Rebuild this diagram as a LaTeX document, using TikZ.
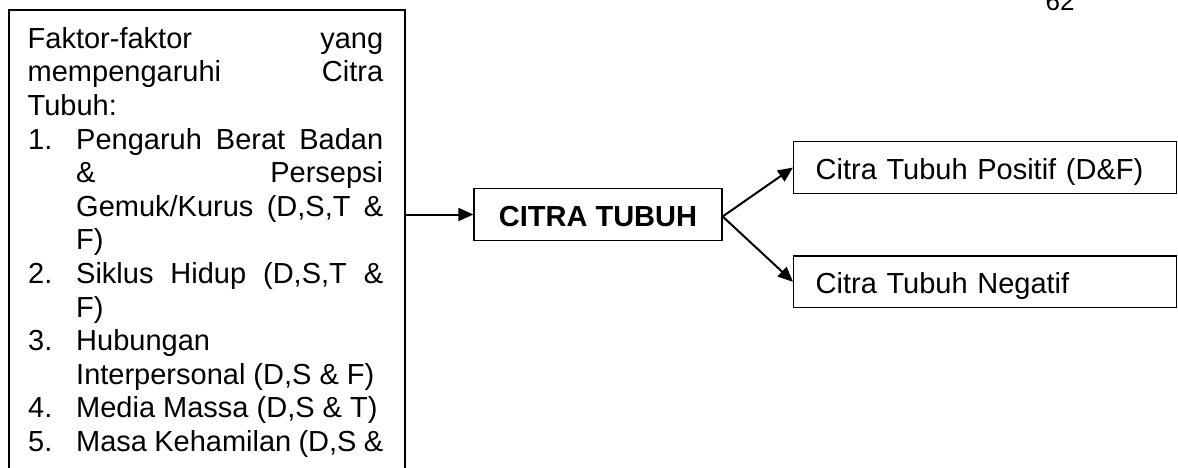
\documentclass[tikz,border=0pt]{standalone}
\usepackage{fontspec}
\setmainfont{Liberation Sans}
\usetikzlibrary{arrows.meta}
\begin{document}
\begin{tikzpicture}[x=1pt,y=-1pt,
  box/.style={draw, line width=1.3pt, rectangle, inner sep=0pt},
  txt/.style={anchor=base west, inner sep=0pt, font=\fontsize{29}{33.6}\selectfont},
  outbox/.style={box, text height=37.8pt, text depth=13.8pt, inner ysep=0pt, inner xsep=22pt,
     text width=339pt, align=left, anchor=west, font=\fontsize{29}{33.6}\selectfont},
  arr/.style={-{Triangle[length=15pt,width=13pt]}, line width=2pt}]
\useasboundingbox (0,0) rectangle (1178,468);
\fill[white] (0,0) rectangle (1178,468);

% page number
\node[anchor=base, inner sep=0pt, font=\fontsize{26}{30}\selectfont] (pagenum) at (1060,10.5) {62};

% left box of factors
\node[box, minimum width=396pt, minimum height=470pt] (factors) at (207,245) {};
\node[txt] (l1) at (27.5,48.3) {\hbox to 355.5pt{Faktor-faktor\hfill yang}};
\node[txt] (l2) at (27.5,81.9) {\hbox to 355.5pt{mempengaruhi\hfill Citra}};
\node[txt] (l3) at (27.5,115.5) {Tubuh:};
\node[txt] (n1) at (28,149.1) {1.};
\node[txt] (l4) at (76,149.1) {\hbox to 307pt{Pengaruh\hfill Berat\hfill Badan}};
\node[txt] (l5) at (76,182.7) {\hbox to 307pt{\&\hfill Persepsi}};
\node[txt] (l6) at (76,216.3) {\hbox to 307pt{Gemuk/Kurus\hfill (D,S,T\hfill \&}};
\node[txt] (l7) at (76,249.9) {F)};
\node[txt] (n2) at (28,283.5) {2.};
\node[txt] (l8) at (76,283.5) {\hbox to 307pt{Siklus\hfill Hidup\hfill (D,S,T\hfill \&}};
\node[txt] (l9) at (76,317.1) {F)};
\node[txt] (n3) at (28,350.7) {3.};
\node[txt] (l10) at (76,350.7) {Hubungan};
\node[txt] (l11) at (76,384.3) {Interpersonal (D,S \& F)};
\node[txt] (n4) at (28,417.9) {4.};
\node[txt] (l12) at (76,417.9) {Media Massa (D,S \& T)};
\node[txt] (n5) at (28,451.5) {5.};
\node[txt] (l13) at (76,451.5) {\hbox to 307pt{Masa\hfill Kehamilan\hfill (D,S\hfill \&}};

% central node
\node[box, minimum width=248pt, text height=37.7pt, text depth=14.7pt, inner ysep=0pt,
      font=\fontsize{29}{33.6}\selectfont\bfseries] (citra) at (598,214.5) {CITRA TUBUH};
\coordinate (split) at ([yshift=-2pt]citra.east);

% outcome boxes
\node[outbox] (pos) at (793,167.5) {Citra Tubuh Positif (D\&F)};
\node[outbox] (neg) at (793,281.8) {Citra Tubuh Negatif};

% connectors
\draw[arr] (factors.east |- citra.west) -- (citra.west);
\draw[arr] (split) -- (pos.west);
\draw[arr] (split) -- (neg.west);
\end{tikzpicture}
\end{document}
